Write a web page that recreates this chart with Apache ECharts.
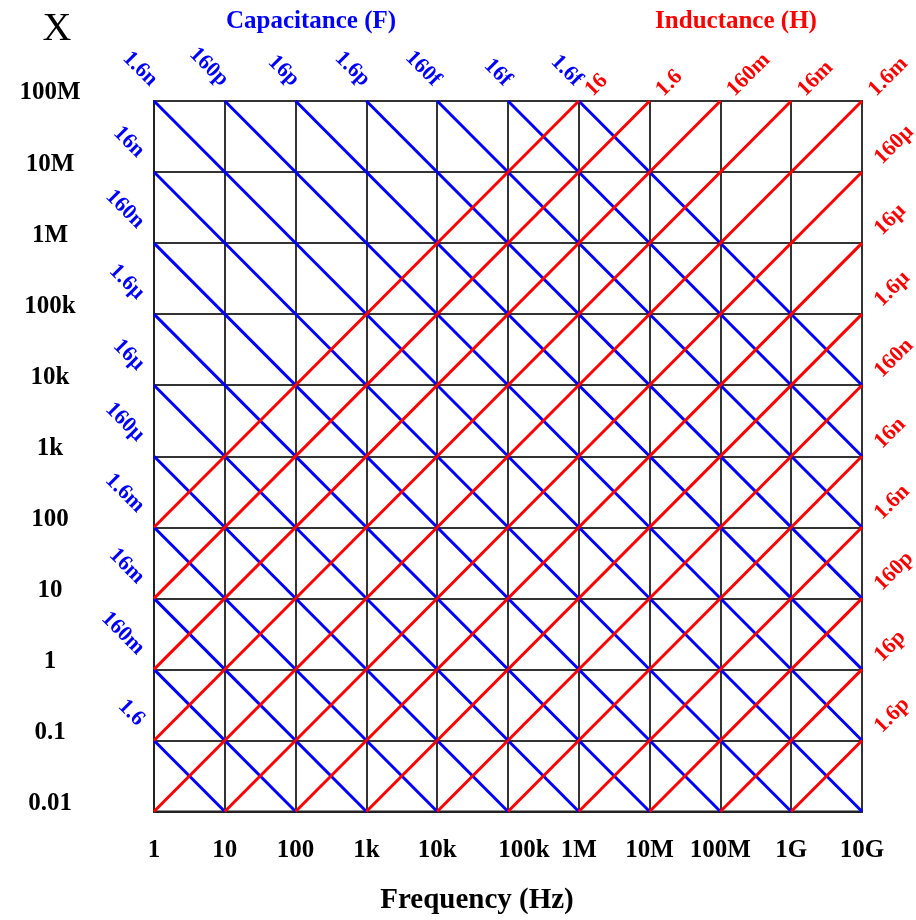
<!DOCTYPE html>
<html>
<head>
<meta charset="utf-8">
<script src="https://cdn.jsdelivr.net/npm/echarts@6/dist/echarts.min.js"></script>
<style>
html,body{margin:0;padding:0;background:#fff;}
#c{width:916px;height:920px;}
</style>
</head>
<body>
<div id="c"></div>
<script>
// Tick labels
const freqTicks = ['1','10','100','1k','10k','100k','1M','10M','100M','1G','10G'];
const reactanceTicks = ['0.01','0.1','1','10','100','1k','10k','100k','1M','10M','100M'];

// Capacitance (blue) lines: endpoints in (Hz, ohm)
const capLabels   = ['1.6n','160p','16p','1.6p','160f','16f','1.6f','16n','160n','1.6µ','16µ','160µ','1.6m','16m','160m','1.6'];
const capStartHz  = [1,10,100,1e3,1e4,1e5,1e6, 1,1,1,1,1,1,1,1,1];
const capStartOhm = [1e8,1e8,1e8,1e8,1e8,1e8,1e8, 1e7,1e6,1e5,1e4,1e3,100,10,1,0.1];
const capEndHz    = [1e10,1e10,1e10,1e10,1e10,1e10,1e10, 1e9,1e8,1e7,1e6,1e5,1e4,1e3,100,10];
const capEndOhm   = [0.01,0.1,1,10,100,1e3,1e4, 0.01,0.01,0.01,0.01,0.01,0.01,0.01,0.01,0.01];

// Inductance (red) lines: endpoints in (Hz, ohm); label sits at the end point
const indLabels   = ['16','1.6','160m','16m','1.6m','160µ','16µ','1.6µ','160n','16n','1.6n','160p','16p','1.6p'];
const indStartHz  = [1,1,1,1,1, 10,100,1e3,1e4,1e5,1e6,1e7,1e8,1e9];
const indStartOhm = [100,10,1,0.1,0.01, 0.01,0.01,0.01,0.01,0.01,0.01,0.01,0.01,0.01];
const indEndHz    = [1e6,1e7,1e8,1e9,1e10, 1e10,1e10,1e10,1e10,1e10,1e10,1e10,1e10,1e10];
const indEndOhm   = [1e8,1e8,1e8,1e8,1e8, 1e7,1e6,1e5,1e4,1e3,100,10,1,0.1];

const FONT = 'Liberation Serif';
const BLUE = '#0000ff', RED = '#ff0000';

const chart = echarts.init(document.getElementById('c'), null, {renderer:'canvas'});

const series = [];
capLabels.forEach((lab, i) => {
  series.push({
    type:'line', name:'C ' + lab, silent:true, symbol:'none', animation:false,
    lineStyle:{color:BLUE, width:3},
    data:[[capStartHz[i], capStartOhm[i]], [capEndHz[i], capEndOhm[i]]],
    z:3
  });
});
indLabels.forEach((lab, i) => {
  series.push({
    type:'line', name:'L ' + lab, silent:true, symbol:'none', animation:false,
    lineStyle:{color:RED, width:3},
    data:[[indStartHz[i], indStartOhm[i]], [indEndHz[i], indEndOhm[i]]],
    z:4
  });
});

const tickStyle = {fontFamily:FONT, fontWeight:'bold', fontSize:25, color:'#000'};

chart.setOption({
  animation:false,
  backgroundColor:'#fff',
  grid:{left:154, top:101, width:708, height:712, show:true, borderColor:'#222', borderWidth:2, backgroundColor:'transparent'},
  xAxis:{
    type:'log', logBase:10, min:1, max:1e10, interval:1,
    name:'Frequency (Hz)', nameLocation:'middle', nameGap:89,
    nameTextStyle:{fontFamily:FONT, fontWeight:'bold', fontSize:29, color:'#000', verticalAlign:'middle', align:'center', padding:[0,62,0,0]},
    axisLine:{show:true, lineStyle:{color:'#222', width:2}},
    axisTick:{show:false},
    splitLine:{show:true, lineStyle:{color:'#333', width:2}},
    minorSplitLine:{show:false},
    axisLabel:Object.assign({}, tickStyle, {
      interval:0, margin:27, align:'center', verticalAlign:'top',
      formatter:function(v){
        const k = Math.round(Math.log10(v));
        const t = freqTicks[k];
        return k === 5 ? '{s|' + t + '}' : t;
      },
      rich:{s:{fontFamily:FONT, fontWeight:'bold', fontSize:25, color:'#000', padding:[0,0,0,32]}}
    })
  },
  yAxis:{
    type:'log', logBase:10, min:0.01, max:1e8, interval:1,
    axisLine:{show:true, lineStyle:{color:'#222', width:2}},
    axisTick:{show:false},
    splitLine:{show:true, lineStyle:{color:'#333', width:2}},
    axisLabel:Object.assign({}, tickStyle, {
      interval:0, margin:104, align:'center', verticalAlign:'bottom', lineHeight:16,
      formatter:function(v){ return reactanceTicks[Math.round(Math.log10(v)) + 2]; }
    })
  },
  series:series
});

// Labels for the diagonal lines, positioned through the chart's own coordinate conversion
const graphics = [];
capLabels.forEach((lab, i) => {
  const p = chart.convertToPixel({gridIndex:0}, [capStartHz[i], capStartOhm[i]]);
  const onTop = capStartOhm[i] >= 1e8 * 0.999;
  const x = onTop ? p[0] : p[0] - 13;
  const y = p[1] - 18;
  graphics.push({
    type:'text', x:x, y:y, rotation:-Math.PI/4, silent:true, z:10,
    style:{text:lab, fill:BLUE, font:'bold 22px "' + FONT + '"', align:'right', verticalAlign:'middle'}
  });
});
indLabels.forEach((lab, i) => {
  const p = chart.convertToPixel({gridIndex:0}, [indEndHz[i], indEndOhm[i]]);
  const onTop = indEndOhm[i] >= 1e8 * 0.999;
  const x = onTop ? p[0] + 10 : p[0] + 16;
  const y = onTop ? p[1] - 8 : p[1] - 11;
  graphics.push({
    type:'text', x:x, y:y, rotation:Math.PI/4, silent:true, z:10,
    style:{text:lab, fill:RED, font:'bold 22px "' + FONT + '"', align:'left', verticalAlign:'middle'}
  });
});
// Titles
graphics.push({type:'text', x:57, y:29, silent:true,
  style:{text:'X', fill:'#000', font:'40px "' + FONT + '"', align:'center', verticalAlign:'middle'}});
graphics.push({type:'text', x:311, y:22, silent:true,
  style:{text:'Capacitance (F)', fill:BLUE, font:'bold 25px "' + FONT + '"', align:'center', verticalAlign:'middle'}});
graphics.push({type:'text', x:736, y:22, silent:true,
  style:{text:'Inductance (H)', fill:RED, font:'bold 25px "' + FONT + '"', align:'center', verticalAlign:'middle'}});

chart.setOption({graphic:graphics});
</script>
</body>
</html>
